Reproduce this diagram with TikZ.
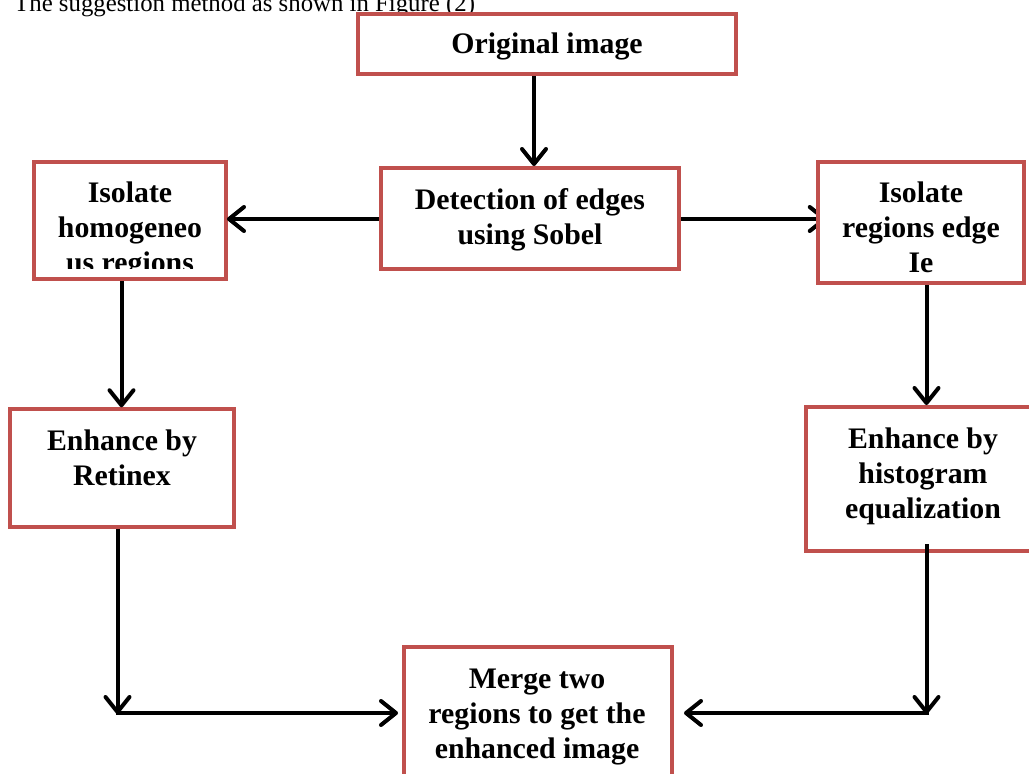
\documentclass[tikz,border=0pt]{standalone}
\usepackage{fontspec}
\setmainfont{Liberation Serif}
\usetikzlibrary{arrows.meta,backgrounds}
\definecolor{boxred}{HTML}{C0504D}
\begin{document}
\begin{tikzpicture}[x=1pt,y=-1pt,
  stepbox/.style={draw=boxred, line width=4pt, fill=white, rectangle, inner sep=0pt},
  lbl/.style={font=\fontsize{29.8}{35}\selectfont\bfseries, align=center, text height=21pt, text depth=7pt, inner sep=0pt},
  conn/.style={line width=4pt, -{Straight Barb[length=15pt,width=24pt,round]}},
  seg/.style={line width=4pt}]
\useasboundingbox (0,0) rectangle (1029,774);
\clip (0,0) rectangle (1029,774);

% caption
\node[font=\fontsize{24.8}{30}\selectfont, anchor=base west, inner sep=0pt] (cap) at (14,11) {The suggestion method as shown in Figure (2)};

% connector corner coordinates
\coordinate (cL) at (117.5,713);
\coordinate (cR) at (926.5,713);

% boxes (drawn as empty frames; texts placed separately)
\node[stepbox, minimum width=378pt, minimum height=60pt] (orig) at (547,44) {};
\node[stepbox, minimum width=298pt, minimum height=101pt] (det) at (530,218.5) {};
\node[stepbox, minimum width=192pt, minimum height=117pt] (homog) at (130,220.5) {};
\node[stepbox, minimum width=206.5pt, minimum height=121pt] (edge) at (921,222.5) {};
\node[stepbox, minimum width=223.5pt, minimum height=117.5pt] (retx) at (122,468) {};
\node[stepbox, minimum width=235pt, minimum height=144pt] (hist) at (923,479) {};
\node[stepbox, minimum width=268pt, minimum height=143pt] (merge) at (538,718.5) {};

% connectors
\begin{scope}[on background layer]
\draw[conn] (det.east |- 0,219) -- ([xshift=11pt]edge.west |- 0,219);
\end{scope}
\draw[conn] (orig.south -| 534,0) -- (det.north -| 534,0);
\draw[conn] (det.west |- 0,219) -- ([xshift=-1pt]homog.east |- 0,219);
\draw[conn] (homog.south -| 121.5,0) -- (retx.north -| 121.5,0);
\draw[conn] (edge.south -| 926.5,0) -- (hist.north -| 926.5,0);
\draw[conn] (retx.south -| cL) -- ([yshift=-1pt]cL);
\draw[conn] ([yshift=9pt]hist.south -| cR) -- ([yshift=-1pt]cR);
\draw[conn] ([xshift=-2pt]cL) -- ([xshift=-4pt]merge.west |- cL);
\draw[conn] ([xshift=2pt]cR) -- ([xshift=10pt]merge.east |- cR);

% texts
\node[lbl] (torig) at (547,46) {Original image};
\node[lbl] (tdet) at (530,237.5) {Detection of edges\\using Sobel};
\begin{scope}
  \clip (36,164) rectangle (224,268);
  \node[lbl] (thomog) at (130,265) {Isolate\\homogeneo\\us regions};
\end{scope}
\node[lbl] (tedge) at (921,265) {Isolate\\regions edge\\Ie};
\node[lbl] (tretx) at (122,478) {Enhance by\\Retinex};
\node[lbl] (thist) at (923,511) {Enhance by\\histogram\\equalization};
\node[lbl] (tmerge) at (537,751) {Merge two\\regions to get the\\enhanced image};
\end{tikzpicture}
\end{document}
